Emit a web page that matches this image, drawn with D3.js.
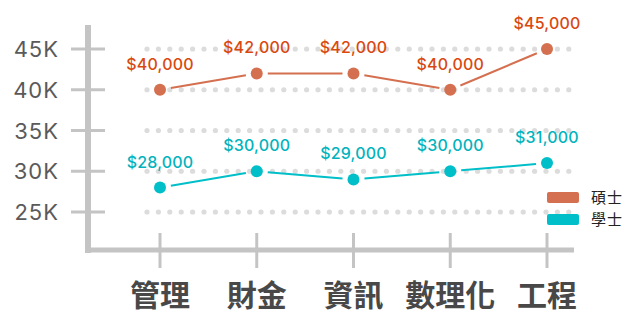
<!DOCTYPE html>
<html>
<head>
<meta charset="utf-8">
<script src="https://cdn.jsdelivr.net/npm/d3@7"></script>
<style>
  body { margin: 0; background: #fff; }
  svg { display: block; }
</style>
</head>
<body>
<svg id="chart" width="640" height="332"></svg>
<script>
// data
var categories = ["管理", "財金", "資訊", "數理化", "工程"];
var masterVals = [40000, 42000, 42000, 40000, 45000];
var bachelorVals = [28000, 30000, 29000, 30000, 31000];
var yTicks = [25000, 30000, 35000, 40000, 45000];
var seriesNames = ["碩士", "學士"];

var svg = d3.select("#chart");
var numFont = "Inter, 'Open Sans', sans-serif";
var cjkFont = "'Noto Sans CJK TC', 'Noto Sans CJK SC', sans-serif";

var x = d3.scalePoint().domain(categories).range([160, 547]);
var y = d3.scaleLinear().domain([25000, 45000]).range([212, 49]);

// dotted grid rows
var dotXs = d3.range(147, 576, 11.4);
yTicks.forEach(function (t) {
  svg.append("g").selectAll("circle")
    .data(dotXs)
    .enter()
    .append("circle")
    .attr("cx", function (d) { return d; })
    .attr("cy", y(t))
    .attr("r", 2.6)
    .attr("fill", "#dcdcdc");
});

// axes lines
svg.append("line").attr("x1", 88).attr("x2", 88).attr("y1", 25).attr("y2", 253)
  .attr("stroke", "#c4c4c4").attr("stroke-width", 6);
svg.append("line").attr("x1", 85).attr("x2", 574).attr("y1", 250).attr("y2", 250)
  .attr("stroke", "#c4c4c4").attr("stroke-width", 5);

// y ticks
var yAxis = svg.append("g");
yAxis.selectAll("line")
  .data(yTicks)
  .enter()
  .append("line")
  .attr("x1", 71).attr("x2", 105)
  .attr("y1", function (d) { return y(d); })
  .attr("y2", function (d) { return y(d); })
  .attr("stroke", "#c4c4c4").attr("stroke-width", 3);
yAxis.selectAll("text")
  .data(yTicks)
  .enter()
  .append("text")
  .attr("x", 59)
  .attr("y", function (d) { return y(d) + 8; })
  .attr("text-anchor", "end")
  .attr("font-family", numFont)
  .attr("font-size", 22)
  .attr("letter-spacing", 1)
  .attr("fill", "#5a5a5a")
  .text(function (d) { return (d / 1000) + "K"; });

// x ticks + labels
var xAxis = svg.append("g");
xAxis.selectAll("line")
  .data(categories)
  .enter()
  .append("line")
  .attr("x1", function (d) { return x(d); })
  .attr("x2", function (d) { return x(d); })
  .attr("y1", 233).attr("y2", 268)
  .attr("stroke", "#c4c4c4").attr("stroke-width", 3);
xAxis.selectAll("text")
  .data(categories)
  .enter()
  .append("text")
  .attr("x", function (d) { return x(d); })
  .attr("y", 306)
  .attr("text-anchor", "middle")
  .attr("font-family", cjkFont)
  .attr("font-weight", "bold")
  .attr("font-size", 30)
  .attr("fill", "#484848")
  .text(function (d) { return d; });

function drawSeries(vals, dotColor, textColor) {
  var pts = vals.map(function (v, i) { return { x: x(categories[i]), y: y(v), v: v }; });
  var segs = d3.pairs(pts);
  var gap = 11;
  svg.append("g").selectAll("line")
    .data(segs)
    .enter()
    .append("line")
    .each(function (s) {
      var a = s[0], b = s[1];
      var dx = b.x - a.x, dy = b.y - a.y, len = Math.sqrt(dx * dx + dy * dy);
      var ux = dx / len, uy = dy / len;
      d3.select(this)
        .attr("x1", a.x + ux * gap).attr("y1", a.y + uy * gap)
        .attr("x2", b.x - ux * gap).attr("y2", b.y - uy * gap);
    })
    .attr("stroke", dotColor).attr("stroke-width", 2);
  svg.append("g").selectAll("circle")
    .data(pts)
    .enter()
    .append("circle")
    .attr("cx", function (d) { return d.x; })
    .attr("cy", function (d) { return d.y; })
    .attr("r", 6)
    .attr("fill", dotColor);
  svg.append("g").selectAll("text")
    .data(pts)
    .enter()
    .append("text")
    .attr("x", function (d) { return d.x; })
    .attr("y", function (d) { return d.y - 20; })
    .attr("text-anchor", "middle")
    .attr("font-family", numFont)
    .attr("font-size", 16)
    .attr("font-weight", 500)
    .attr("letter-spacing", 0.2)
    .attr("fill", textColor)
    .text(function (d) { return "$" + d3.format(",")(d.v); });
}

drawSeries(masterVals, "#d4704f", "#d9480f");
drawSeries(bachelorVals, "#00bfc8", "#00b3bd");

// legend
var legColors = ["#d4704f", "#00bfc8"];
var leg = svg.append("g");
leg.selectAll("rect")
  .data(seriesNames)
  .enter()
  .append("rect")
  .attr("x", 547)
  .attr("y", function (d, i) { return 192 + i * 22; })
  .attr("width", 32).attr("height", 11).attr("rx", 2)
  .attr("fill", function (d, i) { return legColors[i]; });
leg.selectAll("text")
  .data(seriesNames)
  .enter()
  .append("text")
  .attr("x", 591)
  .attr("y", function (d, i) { return 203 + i * 22; })
  .attr("font-family", cjkFont)
  .attr("font-size", 15)
  .attr("letter-spacing", 1)
  .attr("fill", "#222")
  .text(function (d) { return d; });
</script>
</body>
</html>
